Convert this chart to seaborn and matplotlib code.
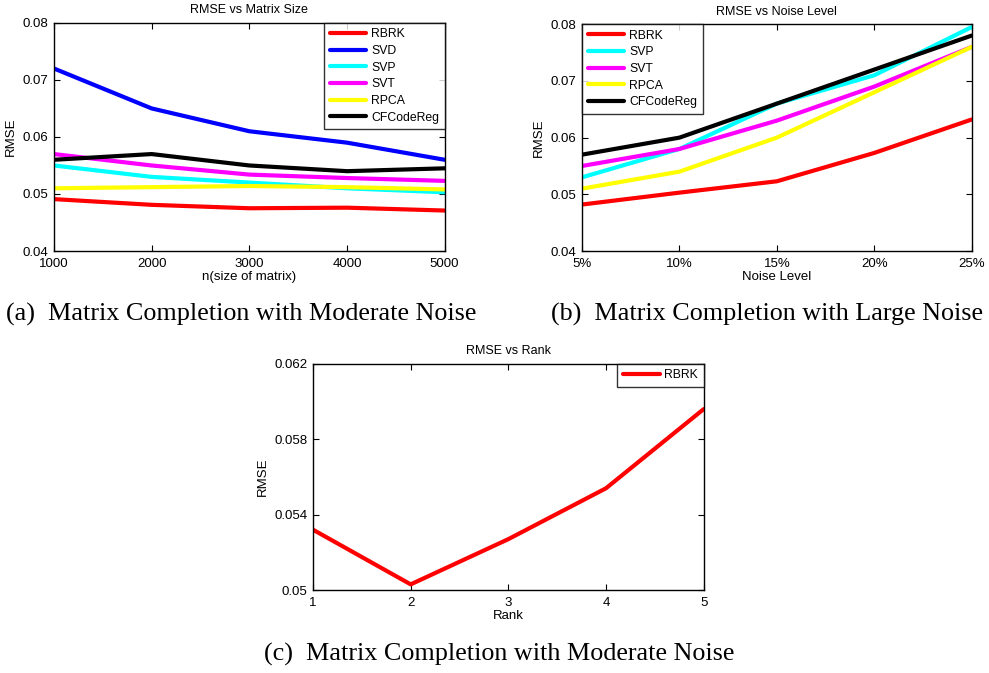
import numpy as np
import pandas as pd
import matplotlib
matplotlib.use("Agg")
import matplotlib.pyplot as plt
import seaborn as sns

# ---- data ----
sizes = [1000, 2000, 3000, 4000, 5000]
a_rbrk = [0.0491, 0.0481, 0.0475, 0.0476, 0.0471]
a_svd = [0.072, 0.065, 0.061, 0.059, 0.056]
a_svp = [0.055, 0.053, 0.052, 0.051, 0.0503]
a_svt = [0.057, 0.055, 0.0534, 0.0528, 0.0523]
a_rpca = [0.051, 0.0512, 0.0514, 0.0512, 0.0508]
a_cfc = [0.056, 0.057, 0.055, 0.054, 0.0545]

noise_labels = ["5%", "10%", "15%", "20%", "25%"]
b_rbrk = [0.0482, 0.0503, 0.0523, 0.0573, 0.0632]
b_svp = [0.053, 0.058, 0.066, 0.071, 0.0795]
b_svt = [0.055, 0.058, 0.063, 0.069, 0.076]
b_rpca = [0.051, 0.054, 0.060, 0.068, 0.076]
b_cfc = [0.057, 0.060, 0.066, 0.072, 0.078]

ranks = [1, 2, 3, 4, 5]
c_rbrk = [0.0532, 0.0503, 0.0527, 0.0554, 0.0596]

colors = {"RBRK": "#ff0000", "SVD": "#0000ff", "SVP": "#00ffff",
          "SVT": "#ff00ff", "RPCA": "#ffff00", "CFCodeReg": "#000000"}

sns.set_theme(style="ticks")
plt.rcParams["font.family"] = ["Liberation Sans", "DejaVu Sans"]
plt.rcParams["text.color"] = "black"
plt.rcParams["axes.labelcolor"] = "black"
plt.rcParams["xtick.color"] = "black"
plt.rcParams["ytick.color"] = "black"

fig = plt.figure(figsize=(9.89, 6.73), dpi=100)

def style_ax(ax):
    ax.tick_params(axis="both", direction="in", top=True, right=True, labelsize=9.5,
                   length=4, width=0.8, color="black", labelcolor="black")
    ax.tick_params(axis="x", pad=5)
    ax.tick_params(axis="y", pad=4)
    for s in ax.spines.values():
        s.set_color("black")
        s.set_linewidth(1.0)
    ax.grid(False)
    ax.title.set_color("black")

def make_legend(ax, loc):
    leg = ax.legend(loc=loc, fontsize=8.8, frameon=True, fancybox=False,
                    edgecolor="black", handlelength=3.0, borderpad=0.45,
                    labelspacing=0.38, handletextpad=0.4, borderaxespad=0.0)
    leg.get_frame().set_linewidth(1.0)
    for t in leg.get_texts():
        t.set_color("black")
    for l in leg.get_lines():
        l.set_linewidth(3)

# Panel (a)
ax1 = fig.add_axes([0.0546, 0.627, 0.395, 0.339])
dfa = pd.DataFrame({"n": sizes * 6,
                    "RMSE": a_rbrk + a_svd + a_svp + a_svt + a_rpca + a_cfc,
                    "method": sum([[m] * 5 for m in ["RBRK", "SVD", "SVP", "SVT", "RPCA", "CFCodeReg"]], [])})
sns.lineplot(data=dfa, x="n", y="RMSE", hue="method", palette=colors, linewidth=3, ax=ax1)
ax1.set_xlim(1000, 5000)
ax1.set_ylim(0.04, 0.08)
ax1.set_xticks(sizes)
ax1.set_yticks([0.04, 0.05, 0.06, 0.07, 0.08])
ax1.set_yticklabels(["0.04", "0.05", "0.06", "0.07", "0.08"])
ax1.set_xlabel("n(size of matrix)", fontsize=9.5, labelpad=1)
ax1.set_ylabel("RMSE", fontsize=9.5, labelpad=4)
ax1.set_title("RMSE vs Matrix Size", fontsize=9, pad=7)
style_ax(ax1)
make_legend(ax1, "upper right")

# Panel (b)
ax2 = fig.add_axes([0.5885, 0.627, 0.394, 0.337])
xb = list(range(5))
dfb = pd.DataFrame({"x": xb * 5,
                    "RMSE": b_rbrk + b_svp + b_svt + b_rpca + b_cfc,
                    "method": sum([[m] * 5 for m in ["RBRK", "SVP", "SVT", "RPCA", "CFCodeReg"]], [])})
sns.lineplot(data=dfb, x="x", y="RMSE", hue="method", palette=colors, linewidth=3, ax=ax2)
ax2.set_xlim(0, 4)
ax2.set_ylim(0.04, 0.08)
ax2.set_xticks(xb)
ax2.set_xticklabels(noise_labels)
ax2.set_yticks([0.04, 0.05, 0.06, 0.07, 0.08])
ax2.set_yticklabels(["0.04", "0.05", "0.06", "0.07", "0.08"])
ax2.set_xlabel("Noise Level", fontsize=9.5, labelpad=1)
ax2.set_ylabel("RMSE", fontsize=9.5, labelpad=4)
ax2.set_title("RMSE vs Noise Level", fontsize=9, pad=7)
style_ax(ax2)
make_legend(ax2, "upper left")

# Panel (c)
ax3 = fig.add_axes([0.3165, 0.1233, 0.395, 0.336])
dfc = pd.DataFrame({"Rank": ranks, "RMSE": c_rbrk, "method": ["RBRK"] * 5})
sns.lineplot(data=dfc, x="Rank", y="RMSE", hue="method", palette=colors, linewidth=3, ax=ax3)
ax3.set_xlim(1, 5)
ax3.set_ylim(0.05, 0.062)
ax3.set_xticks(ranks)
ax3.set_yticks([0.05, 0.054, 0.058, 0.062])
ax3.set_yticklabels(["0.05", "0.054", "0.058", "0.062"])
ax3.set_xlabel("Rank", fontsize=9.5, labelpad=1)
ax3.set_ylabel("RMSE", fontsize=9.5, labelpad=4)
ax3.set_title("RMSE vs Rank", fontsize=9, pad=7)
style_ax(ax3)
make_legend(ax3, "upper right")

# Captions
cap_kw = dict(fontsize=18.8, family=["Liberation Serif", "DejaVu Serif"], ha="center", va="center",
              color="black")
fig.text(0.244, 1 - 314 / 673, "(a)  Matrix Completion with Moderate Noise", **cap_kw)
fig.text(0.776, 1 - 314 / 673, "(b)  Matrix Completion with Large Noise", **cap_kw)
fig.text(0.505, 1 - 654 / 673, "(c)  Matrix Completion with Moderate Noise", **cap_kw)

fig.savefig("out.png", dpi=100)
